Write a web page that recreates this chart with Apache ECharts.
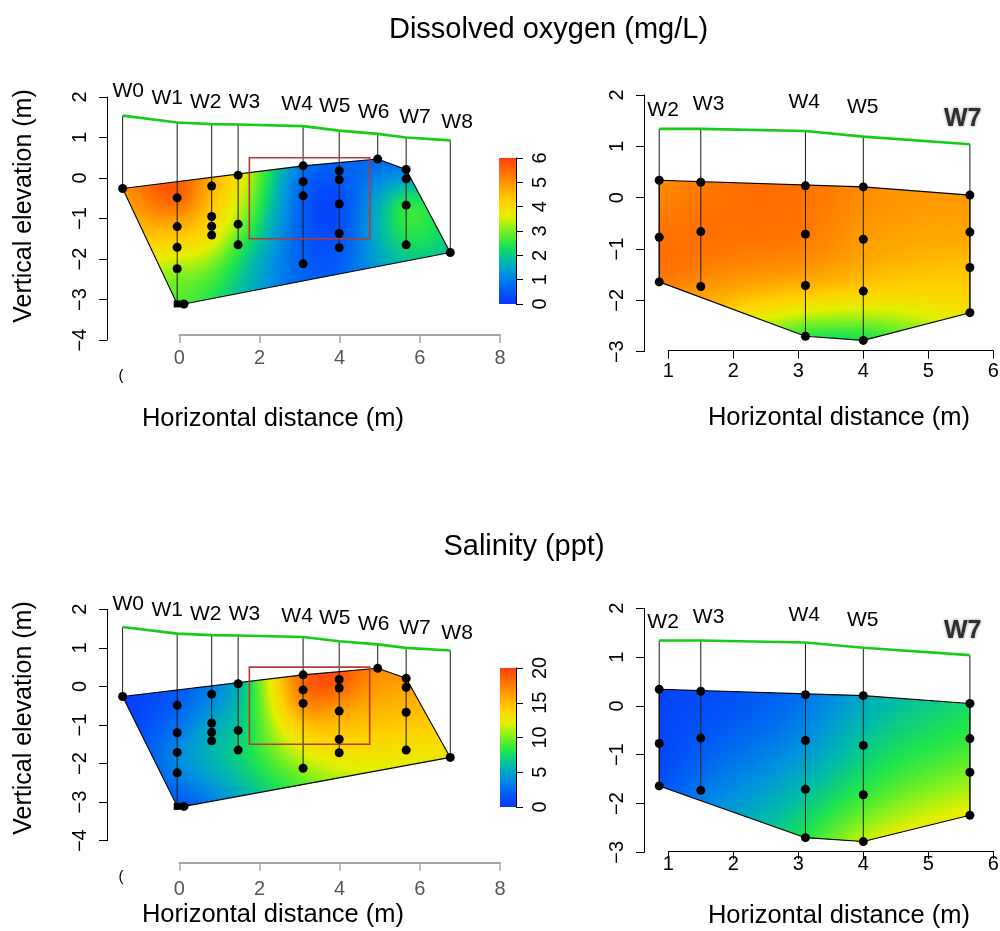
<!DOCTYPE html>
<html>
<head>
<meta charset="utf-8">
<title>Dissolved oxygen and salinity cross-sections</title>
<script src="https://cdn.jsdelivr.net/npm/echarts@6.0.0/dist/echarts.min.js"></script>
<style>
html, body { margin: 0; padding: 0; background: #ffffff; }
#chart { width: 1000px; height: 931px; }
</style>
</head>
<body>
<div id="chart"></div>
<script>
// ---------------- data ----------------
// Full transect: wells W0–W8 (horizontal distance, ground surface, sample elevations; m)
const wellsA  = ['W0', 'W1', 'W2', 'W3', 'W4', 'W5', 'W6', 'W7', 'W8'];
const wellXA  = [-1.41, -0.05, 0.81, 1.47, 3.09, 3.99, 4.95, 5.66, 6.76];
const groundA = [1.54, 1.37, 1.33, 1.32, 1.28, 1.17, 1.09, 1.00, 0.93];
const depthsA = [
  [-0.26],
  [-0.49, -1.20, -1.71, -2.24, -3.11],
  [-0.20, -0.95, -1.19, -1.41],
  [0.07, -1.14, -1.65],
  [0.30, -0.09, -0.44, -2.12],
  [0.18, -0.04, -0.64, -1.37, -1.72],
  [0.47],
  [0.21, -0.02, -0.67, -1.65],
  [-1.84]
];
// extra sample next to the foot of W1
const extraXA = [0.12];
const extraZA = [-3.11];

// Dissolved oxygen (mg/L) at each sample, full transect
const doA = [
  [5.0],
  [5.6, 4.6, 4.0, 3.2, 2.7],
  [4.6, 4.2, 4.0, 3.9],
  [3.9, 3.2, 2.6],
  [0.9, 0.7, 0.6, 0.6],
  [0.6, 0.5, 0.3, 0.4, 0.5],
  [0.7],
  [1.0, 1.4, 2.5, 2.2],
  [1.8]
];
const doExtraA = [2.7];

// Salinity (ppt) at each sample, full transect
const salA = [
  [0.3],
  [2.0, 3.0, 3.8, 3.3, 1.5],
  [3.5, 5.0, 5.3, 5.6],
  [5.5, 6.5, 7.0],
  [18.5, 18.0, 17.0, 10.5],
  [19.0, 18.5, 16.0, 14.0, 13.0],
  [17.0],
  [16.5, 16.0, 15.0, 13.0],
  [12.5]
];
const salExtraA = [1.6];

// Detail section: wells W2–W7
const wellsB  = ['W2', 'W3', 'W4', 'W5', 'W7'];
const wellXB  = [0.86, 1.50, 3.11, 4.00, 5.64];
const groundB = [1.34, 1.34, 1.30, 1.19, 1.04];
const depthsB = [
  [0.34, -0.77, -1.64],
  [0.30, -0.66, -1.73],
  [0.23, -0.71, -1.71, -2.70],
  [0.21, -0.81, -1.82, -2.78],
  [0.05, -0.67, -1.36, -2.24]
];
const doB = [
  [5.1, 5.4, 5.3],
  [5.3, 5.4, 5.0],
  [5.4, 5.3, 4.6, 2.5],
  [5.1, 4.9, 4.2, 2.3],
  [4.9, 4.8, 4.4, 3.9]
];
const salB = [
  [0.7, 0.8, 1.3],
  [1.0, 1.6, 3.0],
  [2.8, 4.0, 6.0, 8.2],
  [5.0, 6.5, 8.5, 11.5],
  [7.5, 8.5, 10.0, 12.5]
];

// outlined sub-area of the full transect [x0, z0, x1, z1]
const focusBox = [1.75, -1.5, 4.75, 0.5];

// colour-scale limits [min, max, tick step]
const doRange  = [0, 6, 1];
const salRange = [0, 20, 5];

// ---------------- layout / style ----------------
const FONT = 'Liberation Sans, Arial, Helvetica, sans-serif';
const PALETTE = ['#0a33ff', '#0060f5', '#0090e0', '#00bca8', '#1ee44c', '#78f020',
                 '#e4f000', '#ffd200', '#ffa400', '#ff7200', '#ff3c0c'];
const GROUND_GREEN = '#16cc16';
const BOX_RED = '#b23a3a';

// label anchors (data units) for the well names
const labelAtA = [[-1.27, 2.14], [-0.30, 1.97], [0.66, 1.86], [1.63, 1.86], [2.94, 1.83],
                  [3.88, 1.78], [4.85, 1.62], [5.88, 1.50], [6.93, 1.38]];
const labelAtB = [[0.92, 1.71], [1.62, 1.82], [3.09, 1.86], [3.99, 1.76], [5.53, 1.54]];

const LAYOUT = {
  doLeft:   { grid: { left: 107, top: 97,    width: 393,   height: 243 },   xRange: [-1.8, 8],   yRange: [-4, 2],
              xGrid: { left: 179.3, top: 334,   width: 320.7, height: 1 }, xTicks: [0, 8, 2], xMargin: 13, gray: true },
  doRight:  { grid: { left: 644, top: 95,    width: 349.3, height: 256.7 }, xRange: [0.626, 6], yRange: [-3, 2],
              xGrid: { left: 668.3, top: 349.7, width: 325,   height: 1 }, xTicks: [1, 6, 1], xMargin: 11, gray: false },
  salLeft:  { grid: { left: 107, top: 609.3, width: 393,   height: 231.4 }, xRange: [-1.8, 8],   yRange: [-4, 2],
              xGrid: { left: 179.3, top: 861.7, width: 320.7, height: 1 }, xTicks: [0, 8, 2], xMargin: 17, gray: true },
  salRight: { grid: { left: 644, top: 608.3, width: 349.3, height: 244 },   xRange: [0.626, 6], yRange: [-3, 2],
              xGrid: { left: 668.3, top: 850,   width: 325,   height: 1 }, xTicks: [1, 6, 1], xMargin: 3, gray: false },
  doBar:  { left: 499, top: 158, width: 17, height: 146 },
  salBar: { left: 500, top: 668, width: 16, height: 139 }
};

// ---------------- helpers ----------------
const PAL_RGB = PALETTE.map(h => [parseInt(h.slice(1, 3), 16), parseInt(h.slice(3, 5), 16), parseInt(h.slice(5, 7), 16)]);
function paletteColor(t) {
  t = Math.max(0, Math.min(1, t));
  const f = t * (PAL_RGB.length - 1);
  const i = Math.min(Math.floor(f), PAL_RGB.length - 2);
  const u = f - i, a = PAL_RGB[i], b = PAL_RGB[i + 1];
  return 'rgb(' + Math.round(a[0] + (b[0] - a[0]) * u) + ',' + Math.round(a[1] + (b[1] - a[1]) * u) + ',' + Math.round(a[2] + (b[2] - a[2]) * u) + ')';
}
const minusLabel = v => (v < 0 ? '\u2212' + Math.abs(v) : String(v));

function solveLinear(A, b) {
  const n = b.length;
  const M = A.map((row, i) => row.concat([b[i]]));
  for (let c = 0; c < n; c++) {
    let p = c;
    for (let r = c + 1; r < n; r++) if (Math.abs(M[r][c]) > Math.abs(M[p][c])) p = r;
    const tmp = M[c]; M[c] = M[p]; M[p] = tmp;
    const d = M[c][c];
    for (let r = 0; r < n; r++) {
      if (r === c) continue;
      const f = M[r][c] / d;
      if (f === 0) continue;
      for (let k = c; k <= n; k++) M[r][k] -= f * M[c][k];
    }
  }
  return M.map((row, i) => row[n] / row[i]);
}

// thin-plate spline surface through the measured samples
function thinPlate(pts, vals, smooth) {
  const n = pts.length;
  const U = r => (r > 1e-12 ? r * r * Math.log(r) : 0);
  const A = [], b = [];
  for (let i = 0; i < n; i++) {
    const row = [];
    for (let j = 0; j < n; j++) row.push(i === j ? smooth : U(Math.hypot(pts[i][0] - pts[j][0], pts[i][1] - pts[j][1])));
    row.push(1, pts[i][0], pts[i][1]);
    A.push(row); b.push(vals[i]);
  }
  for (let k = 0; k < 3; k++) {
    const row = [];
    for (let j = 0; j < n; j++) row.push(k === 0 ? 1 : pts[j][k - 1]);
    row.push(0, 0, 0);
    A.push(row); b.push(0);
  }
  const w = solveLinear(A, b);
  return (x, y) => {
    let s = w[n] + w[n + 1] * x + w[n + 2] * y;
    for (let i = 0; i < n; i++) s += w[i] * U(Math.hypot(x - pts[i][0], y - pts[i][1]));
    return s;
  };
}

// convex hull of the sample positions (area where the surface is defined)
function convexHull(points) {
  const p = points.slice().sort((a, b) => a[0] - b[0] || a[1] - b[1]);
  const cross = (o, a, b) => (a[0] - o[0]) * (b[1] - o[1]) - (a[1] - o[1]) * (b[0] - o[0]);
  const lower = [], upper = [];
  for (const q of p) {
    while (lower.length >= 2 && cross(lower[lower.length - 2], lower[lower.length - 1], q) <= 1e-9) lower.pop();
    lower.push(q);
  }
  for (let i = p.length - 1; i >= 0; i--) {
    const q = p[i];
    while (upper.length >= 2 && cross(upper[upper.length - 2], upper[upper.length - 1], q) <= 1e-9) upper.pop();
    upper.push(q);
  }
  upper.pop(); lower.pop();
  return lower.concat(upper);
}

// horizontal strips across the hull, each shaded with the surface colours along it
function fieldStrips(poly, fn, vmax, dy, dx) {
  let ymin = Infinity, ymax = -Infinity;
  poly.forEach(p => { ymin = Math.min(ymin, p[1]); ymax = Math.max(ymax, p[1]); });
  const nRows = Math.ceil((ymax - ymin) / dy);
  const h = (ymax - ymin) / nRows;
  const rows = [];
  for (let r = 0; r < nRows; r++) {
    const y = ymax - (r + 0.5) * h;
    const xs = [];
    for (let i = 0; i < poly.length; i++) {
      const a = poly[i], b = poly[(i + 1) % poly.length];
      if ((a[1] - y) * (b[1] - y) <= 0 && a[1] !== b[1]) xs.push(a[0] + (y - a[1]) * (b[0] - a[0]) / (b[1] - a[1]));
    }
    if (xs.length < 2) continue;
    const xL = Math.min.apply(null, xs), xR = Math.max.apply(null, xs);
    const n = Math.max(2, Math.ceil((xR - xL) / dx) + 1);
    const stops = [];
    for (let k = 0; k < n; k++) {
      const t = k / (n - 1);
      stops.push({ offset: t, color: paletteColor(fn(xL + (xR - xL) * t, y) / vmax) });
    }
    rows.push({ xL, xR, y, h, stops });
  }
  return rows;
}

// ---------------- option assembly ----------------
const grids = [], xAxes = [], yAxes = [], series = [];
function addGrid(g, xa, ya) {
  grids.push(Object.assign({ containLabel: false, outerBoundsMode: 'none' }, g));
  const idx = grids.length - 1;
  xAxes.push(Object.assign({ type: 'value', gridIndex: idx, splitLine: { show: false } }, xa));
  yAxes.push(Object.assign({ type: 'value', gridIndex: idx, splitLine: { show: false } }, ya));
  return idx;
}
const hiddenAxis = (min, max) => ({ show: false, min, max, axisLine: { onZero: false } });

function buildPanel(L, geo, values, extraValues, vmax) {
  const yr = L.yRange;
  const g = addGrid(L.grid, hiddenAxis(L.xRange[0], L.xRange[1]), {
    min: yr[0], max: yr[1], interval: 1, position: 'left',
    axisLine: { show: true, onZero: false, lineStyle: { color: '#000', width: 1 } },
    axisTick: { show: true, length: 8, lineStyle: { color: '#000', width: 1 } },
    axisLabel: { rotate: 90, margin: 17, fontSize: 20, fontFamily: FONT, color: '#000', formatter: minusLabel }
  });
  const axisColor = L.gray ? '#a6a6a6' : '#000';
  addGrid(L.xGrid, {
    min: L.xTicks[0], max: L.xTicks[1], interval: L.xTicks[2], position: 'bottom',
    axisLine: { show: true, onZero: false, lineStyle: { color: axisColor, width: L.gray ? 2 : 1 } },
    axisTick: { show: true, length: 8, lineStyle: { color: axisColor, width: L.gray ? 1.5 : 1 } },
    axisLabel: { margin: L.xMargin, fontSize: 20, fontFamily: FONT, color: L.gray ? '#555' : '#000' }
  }, hiddenAxis(0, 1));

  // samples
  const pts = [], vals = [];
  geo.wellX.forEach((x, i) => geo.depths[i].forEach((z, k) => { pts.push([x, z]); vals.push(values[i][k]); }));
  (geo.extraX || []).forEach((x, i) => { pts.push([x, geo.extraZ[i]]); vals.push(extraValues[i]); });

  const hull = convexHull(pts);
  const surface = thinPlate(pts, vals, 0.02);
  const strips = fieldStrips(hull, surface, vmax, (yr[1] - yr[0]) / L.grid.height, 0.05);

  const onMain = { xAxisIndex: g, yAxisIndex: g, silent: true, animation: false };

  // colour field, one pixel-snapped strip per row
  series.push(Object.assign({
    type: 'custom', z: 1,
    data: strips.map(r => [r.xL, r.y, r.xR]),
    renderItem: (params, api) => {
      const r = strips[params.dataIndex];
      const a = api.coord([api.value(0), api.value(1) + r.h / 2]);
      const b = api.coord([api.value(2), api.value(1) - r.h / 2]);
      const y0 = Math.round(a[1]), y1 = Math.max(Math.round(b[1]), y0 + 1);
      return {
        type: 'rect',
        shape: { x: a[0], y: y0, width: b[0] - a[0], height: y1 - y0 },
        style: { fill: new echarts.graphic.LinearGradient(0, 0, 1, 0, r.stops), opacity: 1 }
      };
    }
  }, onMain));

  // outline of the interpolated area
  series.push(Object.assign({
    type: 'line', z: 3, symbol: 'none',
    data: hull.concat([hull[0]]),
    lineStyle: { color: '#000', width: 1.1 }
  }, onMain));

  // well casings: ground surface down to the deepest sample
  series.push(Object.assign({
    type: 'custom', z: 3,
    data: geo.wellX.map((x, i) => [x, geo.ground[i], Math.min.apply(null, geo.depths[i])]),
    renderItem: (params, api) => {
      const a = api.coord([api.value(0), api.value(1)]);
      const b = api.coord([api.value(0), api.value(2)]);
      return { type: 'line', shape: { x1: a[0], y1: a[1], x2: b[0], y2: b[1] }, style: { stroke: '#1a1a1a', lineWidth: 1 } };
    }
  }, onMain));

  // ground surface
  series.push(Object.assign({
    type: 'line', z: 3, symbol: 'none',
    data: geo.wellX.map((x, i) => [x, geo.ground[i]]),
    lineStyle: { color: GROUND_GREEN, width: 2.6 }
  }, onMain));

  if (geo.box) {
    series.push(Object.assign({
      type: 'custom', z: 4,
      data: [geo.box],
      renderItem: (params, api) => {
        const a = api.coord([api.value(0), api.value(3)]);
        const b = api.coord([api.value(2), api.value(1)]);
        return { type: 'rect', shape: { x: a[0], y: a[1], width: b[0] - a[0], height: b[1] - a[1] },
                 style: { fill: 'none', stroke: BOX_RED, lineWidth: 1.6 } };
      }
    }, onMain));
  }

  // sample points
  const marks = [];
  geo.wellX.forEach((x, i) => geo.depths[i].forEach((z, k) => {
    const sq = geo.square && geo.square[0] === i && geo.square[1] === k;
    marks.push(sq ? { value: [x, z], symbol: 'rect', symbolSize: 7 } : { value: [x, z] });
  }));
  (geo.extraX || []).forEach((x, i) => marks.push({ value: [x, geo.extraZ[i]] }));
  series.push(Object.assign({
    type: 'scatter', z: 5, symbol: 'circle', symbolSize: 9,
    itemStyle: { color: '#000', opacity: 1 },
    data: marks
  }, onMain));

  // well names
  series.push(Object.assign({
    type: 'scatter', z: 6, symbolSize: 1, clip: false,
    itemStyle: { color: 'rgba(0,0,0,0)', opacity: 1 },
    label: { show: true, position: 'inside', formatter: '{b}', fontSize: 21, fontFamily: FONT,
             color: '#000', opacity: 1, textBorderWidth: 0 },
    data: geo.wells.map((w, i) => {
      const item = { name: w, value: geo.labelAt[i] };
      if (geo.boldLabel === w) {
        item.label = { fontSize: 25, fontWeight: 'bold', color: '#2e2e2e',
                       textShadowColor: 'rgba(0,0,0,0.45)', textShadowBlur: 3 };
      }
      return item;
    })
  }, onMain));
}

function buildColorBar(g, range) {
  const idx = addGrid(g, hiddenAxis(0, 1), {
    min: range[0], max: range[1], interval: range[2], position: 'right',
    axisLine: { show: true, onZero: false, lineStyle: { color: '#000', width: 1 } },
    axisTick: { show: true, length: 7, lineStyle: { color: '#000', width: 1 } },
    axisLabel: { rotate: 90, margin: 14, fontSize: 20, fontFamily: FONT, color: '#000' }
  });
  const stops = PALETTE.map((c, i) => ({ offset: i / (PALETTE.length - 1), color: c }));
  series.push({
    type: 'custom', xAxisIndex: idx, yAxisIndex: idx, silent: true, animation: false, z: 1,
    data: [[0, range[0], 1, range[1]]],
    renderItem: (params, api) => {
      const a = api.coord([api.value(0), api.value(3)]);
      const b = api.coord([api.value(2), api.value(1)]);
      return { type: 'rect', shape: { x: a[0], y: a[1], width: b[0] - a[0], height: b[1] - a[1] },
               style: { fill: new echarts.graphic.LinearGradient(0, 1, 0, 0, stops) } };
    }
  });
}

const geoA = { wells: wellsA, wellX: wellXA, ground: groundA, depths: depthsA, extraX: extraXA, extraZ: extraZA,
               labelAt: labelAtA, box: focusBox, square: [1, 4] };
const geoB = { wells: wellsB, wellX: wellXB, ground: groundB, depths: depthsB, labelAt: labelAtB, boldLabel: 'W7' };

buildPanel(LAYOUT.doLeft, geoA, doA, doExtraA, doRange[1]);
buildPanel(LAYOUT.doRight, geoB, doB, [], doRange[1]);
buildPanel(LAYOUT.salLeft, geoA, salA, salExtraA, salRange[1]);
buildPanel(LAYOUT.salRight, geoB, salB, [], salRange[1]);
buildColorBar(LAYOUT.doBar, doRange);
buildColorBar(LAYOUT.salBar, salRange);

function txt(x, y, text, size, rot) {
  return { type: 'text', x, y, rotation: rot || 0, silent: true,
           style: { text, x: 0, y: 0, fontSize: size, fontFamily: FONT, fill: '#000',
                    align: 'center', verticalAlign: 'middle', textAlign: 'center', textVerticalAlign: 'middle' } };
}

const option = {
  animation: false,
  backgroundColor: '#ffffff',
  grid: grids, xAxis: xAxes, yAxis: yAxes, series,
  graphic: [
    txt(548.5, 30, 'Dissolved oxygen (mg/L)', 29),
    txt(524, 547, 'Salinity (ppt)', 29),
    txt(24, 206, 'Vertical elevation (m)', 25, Math.PI / 2),
    txt(24, 718, 'Vertical elevation (m)', 25, Math.PI / 2),
    txt(273, 419, 'Horizontal distance (m)', 25.5),
    txt(839, 418, 'Horizontal distance (m)', 25.5),
    txt(273, 915, 'Horizontal distance (m)', 25.5),
    txt(839, 916, 'Horizontal distance (m)', 25.5),
    txt(121, 376, '(', 15),
    txt(121, 877, '(', 15)
  ]
};

const chart = echarts.init(document.getElementById('chart'), null, { renderer: 'canvas' });
chart.setOption(option);
</script>
</body>
</html>
